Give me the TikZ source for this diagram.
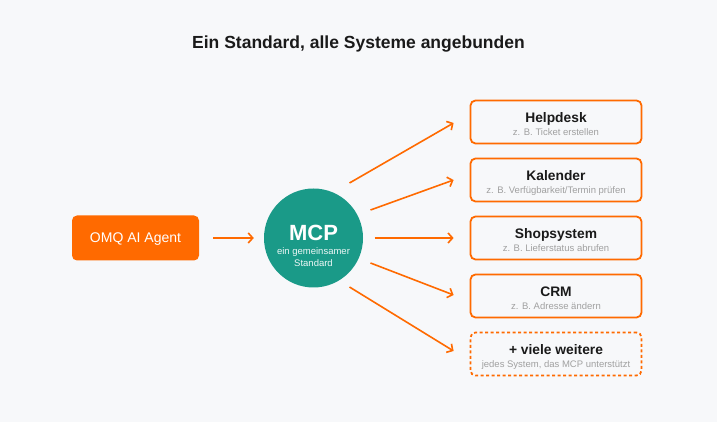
\documentclass[tikz,border=0pt]{standalone}
\usepackage{fontspec}
\setmainfont{Liberation Sans}
\usetikzlibrary{arrows.meta,calc}
\definecolor{bg}{HTML}{F7F8FA}
\definecolor{omqorange}{HTML}{FF6A00}
\definecolor{mcpteal}{HTML}{1A9A88}
\definecolor{dark}{HTML}{1A1A1A}
\definecolor{subgray}{HTML}{A0A0A0}
\tikzset{
  x=1pt,y=1pt,
  sysbox/.style={draw=omqorange,line width=1.8pt,rounded corners=5pt,fill=bg,minimum width=171pt,minimum height=43pt,inner sep=0pt},
  morebox/.style={sysbox,dash pattern=on 3pt off 2.5pt},
  systitle/.style={font=\fontsize{13.8}{16}\selectfont\bfseries,text=dark,inner sep=0pt,text height=10pt,text depth=0pt},
  syssub/.style={font=\fontsize{9.5}{11}\selectfont,text=subgray,inner sep=0pt,text height=7pt,text depth=0pt},
  conn/.style={draw=omqorange,line width=1.6pt,-{Straight Barb[length=4.5pt,width=10pt,line width=1.6pt]}},
}
\begin{document}
\begin{tikzpicture}
\useasboundingbox[fill=bg] (0,0) rectangle (717,422);
\node[font=\fontsize{17.5}{20}\selectfont\bfseries,text=dark] (title) at (358.5,378) {Ein Standard, alle Systeme angebunden};
\node[fill=omqorange,rounded corners=5pt,minimum width=127pt,minimum height=45pt,text=white,font=\fontsize{14}{16}\selectfont,text height=10pt,text depth=0pt] (agent) at (135.5,184) {OMQ AI Agent};
\node[circle,fill=mcpteal,minimum size=99pt,inner sep=0pt] (mcp) at (313.5,184) {};
\node[text=white,font=\fontsize{22}{24}\selectfont\bfseries,inner sep=0pt] (mcpt) at (313.5,189) {MCP};
\node[text=white!92!mcpteal,font=\fontsize{9.5}{11}\selectfont,inner sep=0pt] (mcps1) at (313.5,170) {ein gemeinsamer};
\node[text=white!92!mcpteal,font=\fontsize{9.5}{11}\selectfont,inner sep=0pt] (mcps2) at (313.5,159) {Standard};
% system boxes
\node[sysbox] (help) at (556,300) {};
\node[systitle] (helpt) at ($(help.center)+(0,4.5)$) {Helpdesk};
\node[syssub] (helps) at ($(help.center)+(0,-10.5)$) {z. B. Ticket erstellen};
\node[sysbox] (kal) at (556,242) {};
\node[systitle] (kalt) at ($(kal.center)+(0,4.5)$) {Kalender};
\node[syssub] (kals) at ($(kal.center)+(0,-10.5)$) {z. B. Verfügbarkeit/Termin prüfen};
\node[sysbox] (shop) at (556,184) {};
\node[systitle] (shopt) at ($(shop.center)+(0,4.5)$) {Shopsystem};
\node[syssub] (shops) at ($(shop.center)+(0,-10.5)$) {z. B. Lieferstatus abrufen};
\node[sysbox] (crm) at (556,126) {};
\node[systitle] (crmt) at ($(crm.center)+(0,4.5)$) {CRM};
\node[syssub] (crms) at ($(crm.center)+(0,-10.5)$) {z. B. Adresse ändern};
\node[morebox] (more) at (556,68) {};
\node[systitle] (moret) at ($(more.center)+(0,4.5)$) {+ viele weitere};
\node[syssub] (mores) at ($(more.center)+(0,-10.5)$) {jedes System, das MCP unterstützt};
% start points on MCP
\coordinate (s1) at ($(mcp.center)+(36,55)$);
\coordinate (s2) at ($(mcp.center)+(57,28)$);
\coordinate (s3) at ($(mcp.center)+(61,0)$);
\coordinate (s4) at ($(mcp.center)+(57,-25)$);
\coordinate (s5) at ($(mcp.center)+(36,-49)$);
\draw[conn,shorten <=14pt,shorten >=10pt] (agent.east) -- (mcp.west);
\draw[conn] (s1) -- ([xshift=-16pt,yshift=-1pt]help.west);
\draw[conn] (s2) -- ([xshift=-16pt]kal.west);
\draw[conn] (s3) -- ([xshift=-16pt]shop.west);
\draw[conn] (s4) -- ([xshift=-16pt,yshift=1pt]crm.west);
\draw[conn] (s5) -- ([xshift=-16pt,yshift=3pt]more.west);
\end{tikzpicture}
\end{document}
